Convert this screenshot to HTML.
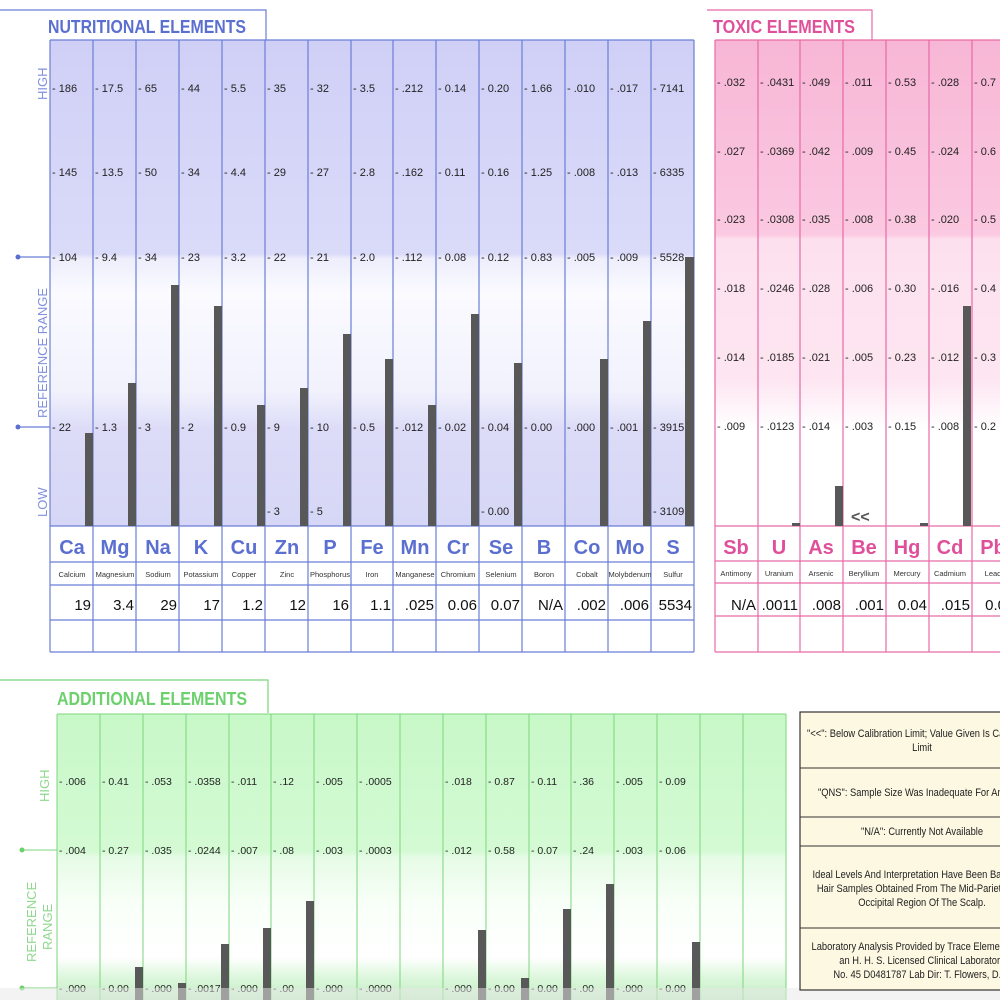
<!DOCTYPE html>
<html><head><meta charset="utf-8"><style>
html,body{margin:0;padding:0;background:#fff;width:1000px;height:1000px;overflow:hidden}
svg{display:block}
text{font-family:"Liberation Sans",sans-serif}
.t{font-size:11px;fill:#222}
.tg{font-size:10.5px;fill:#222}
.nb{font-size:20px;font-weight:bold;fill:#5b6fd0;text-anchor:middle}
.tb{font-size:20px;font-weight:bold;fill:#e0509a;text-anchor:middle}
.nm{font-size:7.5px;fill:#333;text-anchor:middle}
.v{font-size:15px;fill:#111;text-anchor:end}
.lg{font-size:11px;fill:#222;text-anchor:middle}
</style></head><body>
<svg width="1000" height="1000" viewBox="0 0 1000 1000" xmlns="http://www.w3.org/2000/svg">
<defs>
<linearGradient id="gb" x1="0" y1="0" x2="0" y2="1">
<stop offset="0" stop-color="#d0d0f7"/><stop offset="0.44" stop-color="#dadaf9"/>
<stop offset="0.45" stop-color="#eeeefc"/><stop offset="0.52" stop-color="#fafaff"/>
<stop offset="0.72" stop-color="#f2f2fd"/><stop offset="0.80" stop-color="#dcdcf8"/>
<stop offset="1" stop-color="#d6d6f6"/></linearGradient>
<linearGradient id="gp" x1="0" y1="0" x2="0" y2="1">
<stop offset="0" stop-color="#f7b6d5"/><stop offset="0.4" stop-color="#fbc9e1"/>
<stop offset="0.41" stop-color="#fde0ee"/><stop offset="0.7" stop-color="#fde6f1"/>
<stop offset="0.8" stop-color="#ffffff"/><stop offset="1" stop-color="#ffffff"/></linearGradient>
<linearGradient id="gg" x1="0" y1="0" x2="0" y2="1">
<stop offset="0" stop-color="#c8f8c8"/><stop offset="0.48" stop-color="#d4fad4"/>
<stop offset="0.5" stop-color="#e6fbe6"/><stop offset="0.66" stop-color="#f8fff8"/>
<stop offset="0.85" stop-color="#ffffff"/><stop offset="0.92" stop-color="#ddf7dd"/>
<stop offset="1" stop-color="#c4ecc4"/></linearGradient>
<clipPath id="lc"><rect x="802" y="712" width="220" height="278"/></clipPath>
</defs>

<!-- NUTRITIONAL -->
<path d="M0 10 H266 V40" fill="none" stroke="#6b7ed6" stroke-width="1.2"/>
<text x="48" y="33" style="font-size:18px;fill:#5b6fd0;font-weight:bold" textLength="198" lengthAdjust="spacingAndGlyphs">NUTRITIONAL  ELEMENTS</text>
<rect x="50" y="40" width="644" height="486" fill="url(#gb)"/>
<rect x="50" y="526" width="644" height="126" fill="#fff"/>
<g stroke="#6b7ed6" stroke-width="1.2">
<line x1="50" y1="40" x2="694" y2="40"/>
<line x1="50" y1="526" x2="694" y2="526"/><line x1="50" y1="562" x2="694" y2="562"/>
<line x1="50" y1="585" x2="694" y2="585"/><line x1="50" y1="620" x2="694" y2="620"/>
<line x1="50" y1="652" x2="694" y2="652"/>
<line x1="50" y1="40" x2="50" y2="652"/><line x1="93" y1="40" x2="93" y2="652"/>
<line x1="136" y1="40" x2="136" y2="652"/><line x1="179" y1="40" x2="179" y2="652"/>
<line x1="222" y1="40" x2="222" y2="652"/><line x1="265" y1="40" x2="265" y2="652"/>
<line x1="308" y1="40" x2="308" y2="652"/><line x1="351" y1="40" x2="351" y2="652"/>
<line x1="393" y1="40" x2="393" y2="652"/><line x1="436" y1="40" x2="436" y2="652"/>
<line x1="479" y1="40" x2="479" y2="652"/><line x1="522" y1="40" x2="522" y2="652"/>
<line x1="565" y1="40" x2="565" y2="652"/><line x1="608" y1="40" x2="608" y2="652"/>
<line x1="651" y1="40" x2="651" y2="652"/><line x1="694" y1="40" x2="694" y2="652"/>
<line x1="18" y1="257" x2="50" y2="257"/><line x1="18" y1="427" x2="50" y2="427"/>
</g>
<circle cx="18" cy="257" r="2.5" fill="#5b6fd0"/><circle cx="18" cy="427" r="2.5" fill="#5b6fd0"/>
<g style="font-size:13px;fill:#8090dd">
<text transform="translate(47,100) rotate(-90)">HIGH</text>
<text transform="translate(47,418) rotate(-90)">REFERENCE  RANGE</text>
<text transform="translate(47,517) rotate(-90)">LOW</text>
</g>
<g fill="#585858">
<rect x="85" y="433" width="8" height="93"/><rect x="128" y="383" width="8" height="143"/>
<rect x="171" y="285" width="8" height="241"/><rect x="214" y="306" width="8" height="220"/>
<rect x="257" y="405" width="8" height="121"/><rect x="300" y="388" width="8" height="138"/>
<rect x="343" y="334" width="8" height="192"/><rect x="385" y="359" width="8" height="167"/>
<rect x="428" y="405" width="8" height="121"/><rect x="471" y="314" width="8" height="212"/>
<rect x="514" y="363" width="8" height="163"/><rect x="600" y="359" width="8" height="167"/>
<rect x="643" y="321" width="8" height="205"/><rect x="685" y="257" width="9" height="269"/>
</g>
<g class="t">
<text x="52" y="92">- 186</text><text x="52" y="176">- 145</text><text x="52" y="261">- 104</text><text x="52" y="431">- 22</text>
<text x="95" y="92">- 17.5</text><text x="95" y="176">- 13.5</text><text x="95" y="261">- 9.4</text><text x="95" y="431">- 1.3</text>
<text x="138" y="92">- 65</text><text x="138" y="176">- 50</text><text x="138" y="261">- 34</text><text x="138" y="431">- 3</text>
<text x="181" y="92">- 44</text><text x="181" y="176">- 34</text><text x="181" y="261">- 23</text><text x="181" y="431">- 2</text>
<text x="224" y="92">- 5.5</text><text x="224" y="176">- 4.4</text><text x="224" y="261">- 3.2</text><text x="224" y="431">- 0.9</text>
<text x="267" y="92">- 35</text><text x="267" y="176">- 29</text><text x="267" y="261">- 22</text><text x="267" y="431">- 9</text><text x="267" y="515">- 3</text>
<text x="310" y="92">- 32</text><text x="310" y="176">- 27</text><text x="310" y="261">- 21</text><text x="310" y="431">- 10</text><text x="310" y="515">- 5</text>
<text x="353" y="92">- 3.5</text><text x="353" y="176">- 2.8</text><text x="353" y="261">- 2.0</text><text x="353" y="431">- 0.5</text>
<text x="395" y="92">- .212</text><text x="395" y="176">- .162</text><text x="395" y="261">- .112</text><text x="395" y="431">- .012</text>
<text x="438" y="92">- 0.14</text><text x="438" y="176">- 0.11</text><text x="438" y="261">- 0.08</text><text x="438" y="431">- 0.02</text>
<text x="481" y="92">- 0.20</text><text x="481" y="176">- 0.16</text><text x="481" y="261">- 0.12</text><text x="481" y="431">- 0.04</text><text x="481" y="515">- 0.00</text>
<text x="524" y="92">- 1.66</text><text x="524" y="176">- 1.25</text><text x="524" y="261">- 0.83</text><text x="524" y="431">- 0.00</text>
<text x="567" y="92">- .010</text><text x="567" y="176">- .008</text><text x="567" y="261">- .005</text><text x="567" y="431">- .000</text>
<text x="610" y="92">- .017</text><text x="610" y="176">- .013</text><text x="610" y="261">- .009</text><text x="610" y="431">- .001</text>
<text x="653" y="92">- 7141</text><text x="653" y="176">- 6335</text><text x="653" y="261">- 5528</text><text x="653" y="431">- 3915</text><text x="653" y="515">- 3109</text>
</g>
<g class="nb">
<text x="72" y="554">Ca</text><text x="115" y="554">Mg</text><text x="158" y="554">Na</text><text x="201" y="554">K</text>
<text x="244" y="554">Cu</text><text x="287" y="554">Zn</text><text x="330" y="554">P</text><text x="372" y="554">Fe</text>
<text x="415" y="554">Mn</text><text x="458" y="554">Cr</text><text x="501" y="554">Se</text><text x="544" y="554">B</text>
<text x="587" y="554">Co</text><text x="630" y="554">Mo</text><text x="673" y="554">S</text>
</g>
<g class="nm">
<text x="72" y="577">Calcium</text><text x="115" y="577">Magnesium</text><text x="158" y="577">Sodium</text><text x="201" y="577">Potassium</text>
<text x="244" y="577">Copper</text><text x="287" y="577">Zinc</text><text x="330" y="577">Phosphorus</text><text x="372" y="577">Iron</text>
<text x="415" y="577">Manganese</text><text x="458" y="577">Chromium</text><text x="501" y="577">Selenium</text><text x="544" y="577">Boron</text>
<text x="587" y="577">Cobalt</text><text x="630" y="577">Molybdenum</text><text x="673" y="577">Sulfur</text>
</g>
<g class="v">
<text x="91" y="610">19</text><text x="134" y="610">3.4</text><text x="177" y="610">29</text><text x="220" y="610">17</text>
<text x="263" y="610">1.2</text><text x="306" y="610">12</text><text x="349" y="610">16</text><text x="391" y="610">1.1</text>
<text x="434" y="610">.025</text><text x="477" y="610">0.06</text><text x="520" y="610">0.07</text><text x="563" y="610">N/A</text>
<text x="606" y="610">.002</text><text x="649" y="610">.006</text><text x="692" y="610">5534</text>
</g>

<!-- TOXIC -->
<path d="M707 10 H872 V40" fill="none" stroke="#e86aa8" stroke-width="1.2"/>
<text x="713" y="33" style="font-size:18px;fill:#e0509a;font-weight:bold" textLength="142" lengthAdjust="spacingAndGlyphs">TOXIC  ELEMENTS</text>
<rect x="715" y="40" width="290" height="486" fill="url(#gp)"/>
<g stroke="#e86aa8" stroke-width="1.2">
<line x1="715" y1="40" x2="1000" y2="40"/>
<line x1="715" y1="526" x2="1000" y2="526"/><line x1="715" y1="561" x2="1000" y2="561"/>
<line x1="715" y1="583" x2="1000" y2="583"/><line x1="715" y1="616" x2="1000" y2="616"/>
<line x1="715" y1="652" x2="1000" y2="652"/>
<line x1="715" y1="40" x2="715" y2="652"/><line x1="758" y1="40" x2="758" y2="652"/>
<line x1="800" y1="40" x2="800" y2="652"/><line x1="843" y1="40" x2="843" y2="652"/>
<line x1="886" y1="40" x2="886" y2="652"/><line x1="929" y1="40" x2="929" y2="652"/>
<line x1="972" y1="40" x2="972" y2="652"/>
</g>
<g fill="#585858">
<rect x="792" y="523" width="8" height="3"/><rect x="835" y="486" width="8" height="40"/>
<rect x="920" y="523" width="8" height="3"/><rect x="963" y="306" width="8" height="220"/>
</g>
<text x="851" y="522" style="font-size:16px;fill:#555;font-weight:bold">&lt;&lt;</text>
<g class="t">
<text x="717" y="86">- .032</text><text x="717" y="155">- .027</text><text x="717" y="223">- .023</text><text x="717" y="292">- .018</text><text x="717" y="361">- .014</text><text x="717" y="430">- .009</text>
<text x="760" y="86">- .0431</text><text x="760" y="155">- .0369</text><text x="760" y="223">- .0308</text><text x="760" y="292">- .0246</text><text x="760" y="361">- .0185</text><text x="760" y="430">- .0123</text>
<text x="802" y="86">- .049</text><text x="802" y="155">- .042</text><text x="802" y="223">- .035</text><text x="802" y="292">- .028</text><text x="802" y="361">- .021</text><text x="802" y="430">- .014</text>
<text x="845" y="86">- .011</text><text x="845" y="155">- .009</text><text x="845" y="223">- .008</text><text x="845" y="292">- .006</text><text x="845" y="361">- .005</text><text x="845" y="430">- .003</text>
<text x="888" y="86">- 0.53</text><text x="888" y="155">- 0.45</text><text x="888" y="223">- 0.38</text><text x="888" y="292">- 0.30</text><text x="888" y="361">- 0.23</text><text x="888" y="430">- 0.15</text>
<text x="931" y="86">- .028</text><text x="931" y="155">- .024</text><text x="931" y="223">- .020</text><text x="931" y="292">- .016</text><text x="931" y="361">- .012</text><text x="931" y="430">- .008</text>
<text x="974" y="86">- 0.7</text><text x="974" y="155">- 0.6</text><text x="974" y="223">- 0.5</text><text x="974" y="292">- 0.4</text><text x="974" y="361">- 0.3</text><text x="974" y="430">- 0.2</text>
</g>
<g class="tb">
<text x="736" y="554">Sb</text><text x="779" y="554">U</text><text x="821" y="554">As</text><text x="864" y="554">Be</text>
<text x="907" y="554">Hg</text><text x="950" y="554">Cd</text><text x="993" y="554">Pb</text>
</g>
<g class="nm">
<text x="736" y="576">Antimony</text><text x="779" y="576">Uranium</text><text x="821" y="576">Arsenic</text><text x="864" y="576">Beryllium</text>
<text x="907" y="576">Mercury</text><text x="950" y="576">Cadmium</text><text x="993" y="576">Lead</text>
</g>
<g class="v">
<text x="756" y="610">N/A</text><text x="798" y="610">.0011</text><text x="841" y="610">.008</text><text x="884" y="610">.001</text>
<text x="927" y="610">0.04</text><text x="970" y="610">.015</text><text x="1006" y="610">0.0</text>
</g>

<!-- ADDITIONAL -->
<path d="M0 680 H268 V713" fill="none" stroke="#7cd67c" stroke-width="1.2"/>
<text x="57" y="705" style="font-size:18px;fill:#6cd06c;font-weight:bold" textLength="190" lengthAdjust="spacingAndGlyphs">ADDITIONAL  ELEMENTS</text>
<rect x="57" y="714" width="729" height="286" fill="url(#gg)"/>
<g stroke="#7cd67c" stroke-width="1">
<line x1="57" y1="714" x2="786" y2="714"/>
<line x1="57" y1="714" x2="57" y2="1000"/><line x1="100" y1="714" x2="100" y2="1000"/>
<line x1="143" y1="714" x2="143" y2="1000"/><line x1="186" y1="714" x2="186" y2="1000"/>
<line x1="229" y1="714" x2="229" y2="1000"/><line x1="271" y1="714" x2="271" y2="1000"/>
<line x1="314" y1="714" x2="314" y2="1000"/><line x1="357" y1="714" x2="357" y2="1000"/>
<line x1="400" y1="714" x2="400" y2="1000"/><line x1="443" y1="714" x2="443" y2="1000"/>
<line x1="486" y1="714" x2="486" y2="1000"/><line x1="529" y1="714" x2="529" y2="1000"/>
<line x1="571" y1="714" x2="571" y2="1000"/><line x1="614" y1="714" x2="614" y2="1000"/>
<line x1="657" y1="714" x2="657" y2="1000"/><line x1="700" y1="714" x2="700" y2="1000"/>
<line x1="743" y1="714" x2="743" y2="1000"/><line x1="786" y1="714" x2="786" y2="1000"/>
<line x1="22" y1="850" x2="57" y2="850"/><line x1="22" y1="988" x2="57" y2="988"/>
</g>
<circle cx="22" cy="850" r="2.5" fill="#6cd06c"/><circle cx="22" cy="988" r="2.5" fill="#6cd06c"/>
<g style="font-size:13px;fill:#8ed88e">
<text transform="translate(49,802) rotate(-90)">HIGH</text>
<text transform="translate(36,962) rotate(-90)">REFERENCE</text>
<text transform="translate(52,950) rotate(-90)">RANGE</text>
</g>
<g fill="#585858">
<rect x="135" y="967" width="8" height="33"/><rect x="178" y="983" width="8" height="17"/>
<rect x="221" y="944" width="8" height="56"/><rect x="263" y="928" width="8" height="72"/>
<rect x="306" y="901" width="8" height="99"/><rect x="478" y="930" width="8" height="70"/>
<rect x="521" y="978" width="8" height="22"/><rect x="563" y="909" width="8" height="91"/>
<rect x="606" y="884" width="8" height="116"/><rect x="692" y="942" width="8" height="58"/>
</g>
<g class="tg">
<text x="59" y="785">- .006</text><text x="59" y="854">- .004</text><text x="59" y="992">- .000</text>
<text x="102" y="785">- 0.41</text><text x="102" y="854">- 0.27</text><text x="102" y="992">- 0.00</text>
<text x="145" y="785">- .053</text><text x="145" y="854">- .035</text><text x="145" y="992">- .000</text>
<text x="188" y="785">- .0358</text><text x="188" y="854">- .0244</text><text x="188" y="992">- .0017</text>
<text x="231" y="785">- .011</text><text x="231" y="854">- .007</text><text x="231" y="992">- .000</text>
<text x="273" y="785">- .12</text><text x="273" y="854">- .08</text><text x="273" y="992">- .00</text>
<text x="316" y="785">- .005</text><text x="316" y="854">- .003</text><text x="316" y="992">- .000</text>
<text x="359" y="785">- .0005</text><text x="359" y="854">- .0003</text><text x="359" y="992">- .0000</text>
<text x="445" y="785">- .018</text><text x="445" y="854">- .012</text><text x="445" y="992">- .000</text>
<text x="488" y="785">- 0.87</text><text x="488" y="854">- 0.58</text><text x="488" y="992">- 0.00</text>
<text x="531" y="785">- 0.11</text><text x="531" y="854">- 0.07</text><text x="531" y="992">- 0.00</text>
<text x="573" y="785">- .36</text><text x="573" y="854">- .24</text><text x="573" y="992">- .00</text>
<text x="616" y="785">- .005</text><text x="616" y="854">- .003</text><text x="616" y="992">- .000</text>
<text x="659" y="785">- 0.09</text><text x="659" y="854">- 0.06</text><text x="659" y="992">- 0.00</text>
</g>
<rect x="0" y="988" width="1000" height="12" fill="#e8e8e8" opacity="0.5"/>

<!-- LEGEND -->
<rect x="800" y="712" width="225" height="278" fill="#fdf8e2" stroke="#333" stroke-width="1.2"/>
<g stroke="#333" stroke-width="1">
<line x1="800" y1="768" x2="1000" y2="768"/><line x1="800" y1="817" x2="1000" y2="817"/>
<line x1="800" y1="846" x2="1000" y2="846"/><line x1="800" y1="928" x2="1000" y2="928"/>
</g>
<g clip-path="url(#lc)">
<g class="lg" transform="translate(922,0) scale(0.85,1)">
<text x="0" y="737">"&lt;&lt;": Below Calibration Limit; Value Given Is Calibration</text>
<text x="0" y="751">Limit</text>
<text x="0" y="796">"QNS": Sample Size Was Inadequate For Analysis</text>
<text x="0" y="835">"N/A": Currently Not Available</text>
<text x="0" y="878">Ideal Levels And Interpretation Have Been Based On</text>
<text x="0" y="892">Hair Samples Obtained From The Mid-Parietal And</text>
<text x="0" y="906">Occipital Region Of The Scalp.</text>
<text x="0" y="950">Laboratory Analysis Provided by Trace Elements, Inc.</text>
<text x="0" y="964">an H. H. S. Licensed Clinical Laboratory</text>
<text x="0" y="978">No. 45 D0481787  Lab Dir: T. Flowers, D.C.</text>
</g>
</g>
</svg>
</body></html>
